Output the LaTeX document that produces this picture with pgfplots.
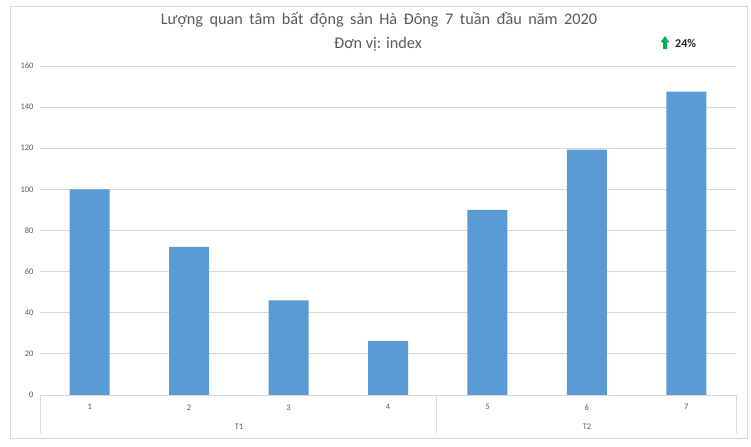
\documentclass[border=0pt]{standalone}
\usepackage{pgfplots}
\pgfplotsset{compat=1.18}
\usepackage{fontspec}
\setmainfont{Carlito}
\definecolor{barblue}{HTML}{5B9BD5}
\definecolor{gridgray}{HTML}{D9D9D9}
\definecolor{txtgray}{HTML}{595959}
\definecolor{upgreen}{HTML}{00B050}
\begin{document}
\begin{tikzpicture}[x=1bp,y=1bp]
\path[use as bounding box] (0,0) rectangle (751,447);
\draw[gridgray, line width=0.8bp] (10,9) rectangle (747,441);
\begin{axis}[
  at={(40bp,52bp)}, anchor=south west,
  scale only axis, width=696bp, height=329bp,
  xmin=0.5, xmax=7.5, ymin=0, ymax=160,
  ytick={0,20,...,160},
  xtick={1,...,7},
  xticklabels={1,2,3,4,5,6,7},
  axis line style={draw=none},
  ymajorgrids, grid style={gridgray, line width=0.8bp},
  major tick length=0,
  tick label style={font=\fontsize{8.5}{10}\selectfont, text=txtgray},
  yticklabel style={xshift=-3bp},
  xticklabel style={yshift=-6bp},
  /pgf/number format/assume math mode=true,
  clip=false,
]
\addplot[ybar, bar width=40bp, fill=barblue, draw=none] coordinates {
  (1,100) (2,72) (3,46) (4,26.3) (5,90) (6,119.3) (7,147.5)
};
\draw[gridgray, line width=0.8bp] (axis cs:0.5,0) -- (axis cs:7.5,0);
\end{axis}
\draw[gridgray, line width=0.8bp] (40,52) -- (40,14);
\draw[gridgray, line width=0.8bp] (436,52) -- (436,14);
\draw[gridgray, line width=0.8bp] (736,52) -- (736,14);
\node[font=\fontsize{8.5}{10}\selectfont, text=txtgray] at (239,20) {T1};
\node[font=\fontsize{8.5}{10}\selectfont, text=txtgray] at (587,20) {T2};
\node[font=\fontsize{16.3}{19}\selectfont, text=txtgray] at (379,427) {\spaceskip=0.4em plus 0.1em Lượng quan tâm bất động sản Hà Đông 7 tuần đầu năm 2020};
\node[font=\fontsize{16.3}{19}\selectfont, text=txtgray] at (378,403) {Đơn vị: index};
\fill[upgreen] (665,411) -- (669.5,404.5) -- (667,404.5) -- (667,398) -- (663,398) -- (663,404.5) -- (660.5,404.5) -- cycle;
\node[font=\fontsize{12}{14}\selectfont\bfseries, text=black!85, anchor=west, inner sep=0pt] at (675,404) {24\%};
\end{tikzpicture}
\end{document}
